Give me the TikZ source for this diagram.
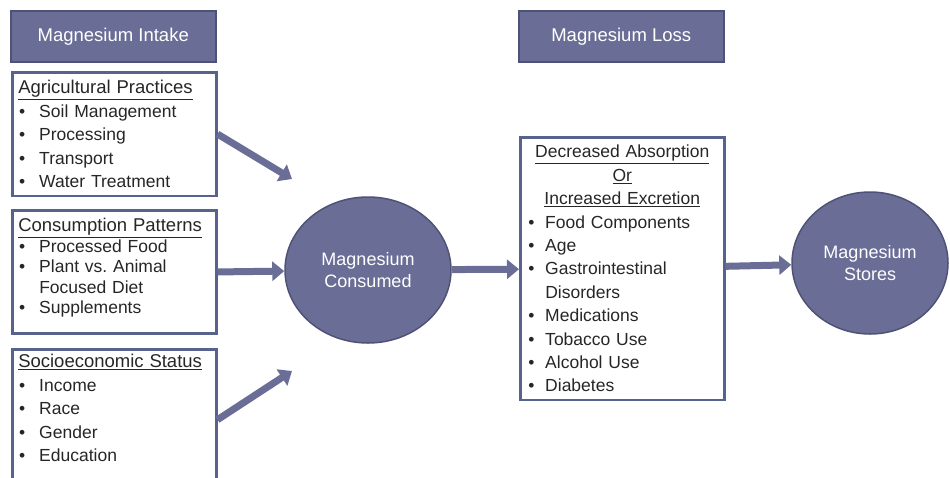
\documentclass[tikz,border=0pt]{standalone}
\usepackage{fontspec}
\setmainfont{Liberation Sans}
\usetikzlibrary{arrows.meta, shapes.geometric}
\definecolor{slate}{RGB}{106,110,150}
\definecolor{slateline}{RGB}{78,82,118}
\definecolor{boxline}{RGB}{88,98,142}
\definecolor{txt}{RGB}{38,38,38}
\newcommand{\bul}{\makebox[21pt][l]{\hspace{1pt}\textbullet}}
\newcommand{\nobul}{\makebox[21pt][l]{}}
\newcommand{\lbul}{\makebox[22pt][l]{\hspace{5pt}\textbullet}}
\newcommand{\lnobul}{\makebox[22pt][l]{}}
\newcommand{\hdl}[1]{{\fontsize{18.5}{23}\selectfont\underline{#1}}}
\newcommand{\hd}[1]{\makebox[\linewidth]{\underline{#1}}}
\tikzset{>=latex,
  title/.style={draw=slateline, line width=1.5pt, fill=slate, text=white,
    minimum width=205pt, minimum height=51pt, anchor=north west,
    font=\fontsize{18.5}{22}\selectfont},
  listbox/.style={draw=boxline, line width=2.5pt, anchor=north west,
    inner xsep=6pt, inner ysep=8pt, text width=192pt, align=left, text=txt,
    font=\fontsize{17.5}{23.5}\selectfont},
  pool/.style={ellipse, draw=slateline, line width=1.5pt, fill=slate,
    text=white, align=center, inner sep=0pt, font=\fontsize{18}{22}\selectfont},
  flow/.style={draw=slate, line width=7pt, -{Triangle[length=12pt,width=19pt]}}
}
\begin{document}
\begin{tikzpicture}[x=1pt, y=-1pt]
\useasboundingbox (0,0) rectangle (950,477);
% headers
\node[title] (intake) at (10,10) {Magnesium Intake};
\node[title] (lossT) at (518,10) {Magnesium Loss};
% intake factors
\node[listbox] (agri) at (11,71)
{\hdl{Agricultural Practices}\\
\bul Soil Management\\
\bul Processing\\
\bul Transport\\
\bul Water Treatment};
\node[listbox, font=\fontsize{17.5}{20.5}\selectfont] (patterns) at (11,209)
{\hdl{Consumption Patterns}\\
\bul Processed Food\\
\bul Plant vs.\ Animal\\
\nobul Focused Diet\\
\bul Supplements\rule[-12pt]{0pt}{12pt}};
\node[listbox, inner ysep=5pt] (socio) at (11,348)
{\hdl{Socioeconomic Status}\\
\bul Income\\
\bul Race\\
\bul Gender\\
\bul Education\\
\mbox{}};
% pools
\node[pool, minimum width=166pt, minimum height=146pt] (consumed) at (368,270) {Magnesium\\Consumed};
\node[pool, minimum width=156pt, minimum height=142pt] (stores) at (870,263) {Magnesium\\Stores};
% loss factors
\node[listbox, inner xsep=3pt, inner ysep=8pt, text width=198pt,
  font=\fontsize{17.5}{23.4}\selectfont] (loss) at (519,136)
{\hd{Decreased Absorption}\\
\hd{Or}\\
\hd{Increased Excretion}\\
\lbul Food Components\\
\lbul Age\\
\lbul Gastrointestinal\\
\lnobul Disorders\\
\lbul Medications\\
\lbul Tobacco Use\\
\lbul Alcohol Use\\
\lbul Diabetes};
\coordinate (agriEnd) at (292,179);
\coordinate (socioEnd) at (292,371);
\path
(agri.east) edge[flow] (agriEnd)
(patterns.east) edge[flow] (consumed)
(socio.east) edge[flow] (socioEnd)
(consumed) edge[flow] (loss)
(loss) edge[flow] (stores);
\end{tikzpicture}
\end{document}
